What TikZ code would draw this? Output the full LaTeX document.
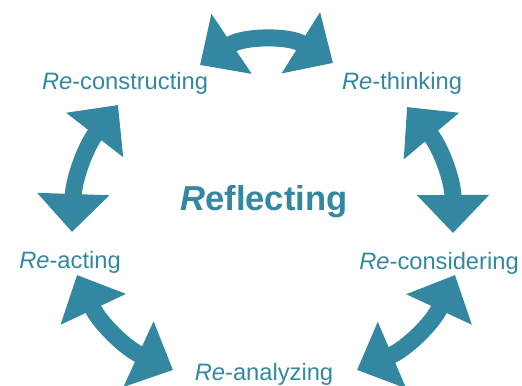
\documentclass[tikz,border=0pt]{standalone}
\usepackage{fontspec}
\setmainfont{Liberation Sans}
\usetikzlibrary{arrows.meta}
\definecolor{refl_teal}{HTML}{3387A0}
\tikzset{
  x=0.5pt, y=-0.5pt,
  treenode/.style = {inner sep=0pt, text=refl_teal},
  re_lbl/.style = {treenode, anchor=base, font=\fontsize{11.85}{14}\selectfont},
  main_lbl/.style = {treenode, anchor=base, font=\fontsize{17.3}{20}\selectfont\bfseries},
  re_arr/.style = {draw=refl_teal, line width=8.5pt,
    {Triangle[width=35pt, length=19pt]}-{Triangle[width=35pt, length=19pt]}}
}

\begin{document}
\begin{tikzpicture}
\useasboundingbox (0,0) rectangle (522,385);
% labels
\node [main_lbl] (refl) at (264,210) {\textit{R}eflecting};
\node [re_lbl] (think) at (402,89) {\textit{Re}-thinking};
\node [re_lbl] (constr) at (125,89) {\textit{Re}-constructing};
\node [re_lbl] (act) at (70,268) {\textit{Re}-acting};
\node [re_lbl] (consid) at (439,269) {\textit{Re}-considering};
\node [re_lbl] (analyz) at (264,380) {\textit{Re}-analyzing};
% arrow tips
\coordinate (t1a) at (200,65);	\coordinate (t1b) at (333,63);
\coordinate (t2a) at (407,107);	\coordinate (t2b) at (453,233);
\coordinate (t3a) at (455,275);	\coordinate (t3b) at (357,370);
\coordinate (t4a) at (77,275);	\coordinate (t4b) at (173,370);
\coordinate (t5a) at (118,105);	\coordinate (t5b) at (72,232);
% arrows
\draw [re_arr] (t1a) to[bend left=33] (t1b);
\draw [re_arr] (t2a) to[bend left=20] (t2b);
\draw [re_arr] (t3a) to[bend left=21] (t3b);
\draw [re_arr] (t4a) to[bend right=20] (t4b);
\draw [re_arr] (t5a) to[bend right=18] (t5b);
\end{tikzpicture}
\end{document}
